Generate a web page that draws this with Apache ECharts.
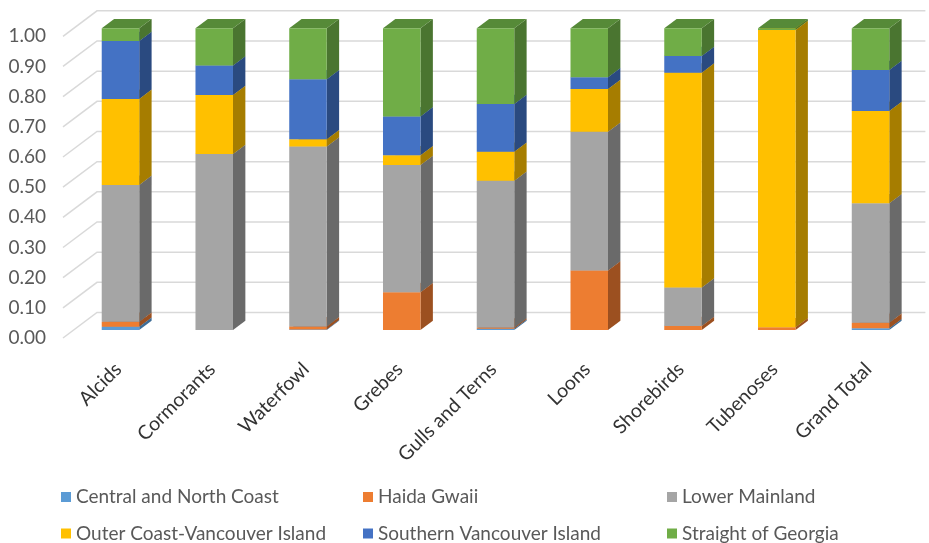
<!DOCTYPE html>
<html>
<head>
<meta charset="utf-8">
<script src="https://cdn.jsdelivr.net/npm/echarts@6/dist/echarts.min.js"></script>
<style>
html,body{margin:0;padding:0;background:#fff;}
#main{width:929px;height:543px;}
</style>
</head>
<body>
<div id="main"></div>
<script>
const categories = ['Alcids','Cormorants','Waterfowl','Grebes','Gulls and Terns','Loons','Shorebirds','Tubenoses','Grand Total'];
const seriesNames = ['Central and North Coast','Haida Gwaii','Lower Mainland','Outer Coast-Vancouver Island','Southern Vancouver Island','Straight of Georgia'];
const centralNorth = [0.011, 0.000, 0.002, 0.000, 0.004, 0.000, 0.000, 0.000, 0.006];
const haidaGwaii   = [0.016, 0.000, 0.010, 0.125, 0.004, 0.197, 0.013, 0.009, 0.018];
const lowerMainland= [0.454, 0.583, 0.596, 0.422, 0.487, 0.460, 0.128, 0.000, 0.396];
const outerCoast   = [0.285, 0.196, 0.024, 0.032, 0.096, 0.142, 0.712, 0.985, 0.306];
const southernVI   = [0.192, 0.098, 0.199, 0.129, 0.158, 0.039, 0.055, 0.000, 0.136];
const straitGeorgia= [0.042, 0.123, 0.169, 0.292, 0.251, 0.162, 0.092, 0.006, 0.138];
const yTicks = [0, 0.1, 0.2, 0.3, 0.4, 0.5, 0.6, 0.7, 0.8, 0.9, 1.0];

const values = [centralNorth, haidaGwaii, lowerMainland, outerCoast, southernVI, straitGeorgia];
const colors = ['#5B9BD5','#ED7D31','#A5A5A5','#FFC000','#4472C4','#70AD47'];
const sideColors = ['#3d6c96','#9c5020','#6a6a6a','#a67d00','#2a4a80','#4a7530'];
const topColors = ['#4f86b8','#c9692a','#8a8a8a','#d9a300','#3a62a8','#568a38'];

const FONT = 'Lato';

function shade(i){ return {front: colors[i], side: sideColors[i], top: topColors[i]}; }

function makeBarRenderer(si){
  const c = shade(si);
  return function(params, api){
    const idx = api.value(0), b = api.value(1), t = api.value(2);
    if (t - b <= 0) return;
    const p0 = api.coord([idx, b]), p1 = api.coord([idx, t]);
    const band = api.size([1, 0])[0];
    const w = band * 0.4;
    const x0 = p0[0] - w / 2, x1 = p0[0] + w / 2;
    const dx = band * 0.132, dy = -dx * 0.75;
    const children = [
      {type:'polygon', shape:{points:[[x1,p0[1]],[x1,p1[1]],[x1+dx,p1[1]+dy],[x1+dx,p0[1]+dy]]}, style:{fill:c.side}},
      {type:'polygon', shape:{points:[[x0,p1[1]],[x1,p1[1]],[x1+dx,p1[1]+dy],[x0+dx,p1[1]+dy]]}, style:{fill:c.top}},
      {type:'rect', shape:{x:x0, y:p1[1], width:w, height:p0[1]-p1[1]}, style:{fill:c.front}}
    ];
    return {type:'group', children: children};
  };
}

const series = [];
// back wall gridlines
series.push({
  type:'custom', name:'grid', xAxisIndex:0, yAxisIndex:0, silent:true, clip:false, z:1,
  data: yTicks.map(v => [0, v]),
  renderItem: function(params, api){
    const v = api.value(1);
    const y = api.coord([0, v])[1];
    const cs = params.coordSys;
    const xs = cs.x - 10.6, xe = cs.x + 23.4, xr = cs.x + cs.width + 8;
    return {type:'polyline', shape:{points:[[xs, y + 8], [xe, y - 17.5], [xr, y - 17.5]]},
      style:{stroke:'#d9d9d9', lineWidth:1.5, fill:null}};
  }
});

const base = categories.map(() => 0);
values.forEach((arr, si) => {
  const data = arr.map((v, i) => { const d = [i, base[i], base[i] + v]; base[i] += v; return d; });
  series.push({
    type:'custom', name: seriesNames[si], xAxisIndex:0, yAxisIndex:0, clip:false, z:2 + si,
    itemStyle:{color: colors[si]},
    encode:{x:0, y:[1,2]},
    data: data,
    renderItem: makeBarRenderer(si)
  });
});

const legendCols = [61, 363, 667];
const legendRows = [487.5, 524];
const legends = seriesNames.map((name, i) => ({
  icon:'rect', itemWidth:10, itemHeight:10, orient:'horizontal', padding:0,
  left: legendCols[i % 3], top: legendRows[Math.floor(i / 3)],
  data:[name],
  textStyle:{fontFamily:FONT, fontSize:19, color:'#595959'}
}));

const option = {
  animation:false,
  backgroundColor:'#fff',
  grid:[
    {left:73.6, right:11.6, top:28.3, bottom:213, containLabel:false},
    {left:73.6, right:11.6, top:36.3, bottom:205, containLabel:false}
  ],
  xAxis:[
    {type:'category', gridIndex:0, data:categories, boundaryGap:true,
      axisLine:{show:false}, axisTick:{show:false}, splitLine:{show:false},
      axisLabel:{rotate:45, interval:0, margin:34, padding:[0, 3, 14, 0], fontFamily:FONT, fontSize:19.5, color:'#333333'}},
    {type:'category', gridIndex:1, data:categories, show:false}
  ],
  yAxis:[
    {type:'value', gridIndex:0, min:0, max:1, interval:0.1, show:false, splitLine:{show:false}},
    {type:'value', gridIndex:1, min:0, max:1, interval:0.1,
      axisLine:{show:false}, axisTick:{show:false}, splitLine:{show:false},
      axisLabel:{margin:27.6, fontFamily:FONT, fontSize:19, color:'#595959', formatter: v => v.toFixed(2)}}
  ],
  legend: legends,
  series: series
};

const chart = echarts.init(document.getElementById('main'), null, {renderer:'canvas'});
chart.setOption(option);
</script>
</body>
</html>
